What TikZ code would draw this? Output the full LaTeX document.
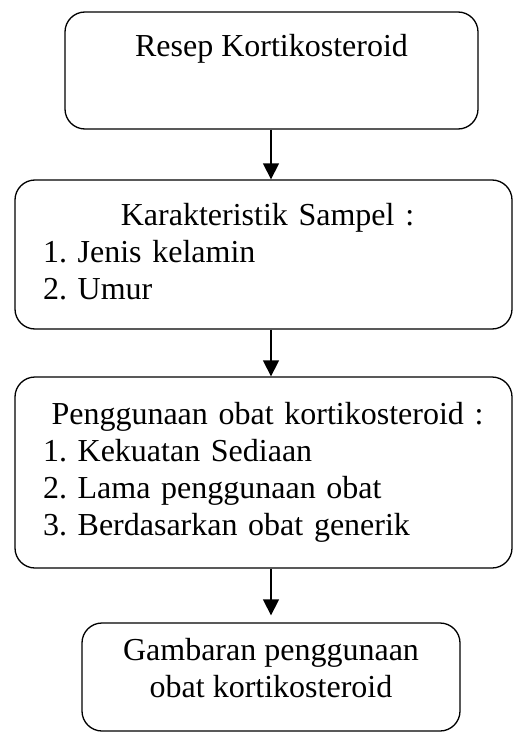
\documentclass[tikz,border=0pt]{standalone}
\usepackage{fontspec}
\setmainfont{Liberation Serif}
\usetikzlibrary{positioning,arrows.meta}
\frenchspacing

\begin{document}
\begin{tikzpicture}[x=1pt,y=-1pt,
  every node/.style={font=\fontsize{32}{37}\selectfont},
  flowbox/.style={draw, line width=1.3pt, rounded corners=20pt, inner ysep=0pt},
  listbox/.style={flowbox, align=left, inner xsep=28pt, text width=441pt},
  flowline/.style={line width=1.3pt, -{Triangle[length=16pt,width=16pt]}}]
  \useasboundingbox (0,0) rectangle (513,733);
  \coordinate (axis) at (271,0);

  % box 1
  \node[flowbox, anchor=base, minimum width=413pt, inner xsep=0pt,
        text height=45pt, text depth=72pt] (resep) at (271.5,57) {Resep Kortikosteroid};

  % box 2
  \node[listbox, minimum height=149pt, text depth=81pt] (sampel) at (263.5,254.5)
    {\makebox[\linewidth]{\kern8pt Karakteristik Sampel :}\\
     1. Jenis kelamin\\
     2. Umur};

  % box 3
  \node[listbox, minimum height=191pt] (penggunaan) at (263.5,472.5)
    {\makebox[\linewidth]{\kern8pt Penggunaan obat kortikosteroid :}\\
     1. Kekuatan Sediaan\\
     2. Lama penggunaan obat\\
     3. Berdasarkan obat generik};

  % box 4
  \node[flowbox, align=center, minimum width=378pt, minimum height=108pt,
        text depth=19pt] (gambaran) at (271,677)
    {Gambaran penggunaan\\obat kortikosteroid};

  % arrows
  \draw[flowline] (resep.south -| axis) -- (axis |- sampel.north);
  \draw[flowline] (sampel.south -| axis) -- (axis |- penggunaan.north);
  \draw[flowline, shorten >=7pt] (penggunaan.south -| axis) -- (axis |- gambaran.north);
\end{tikzpicture}
\end{document}
